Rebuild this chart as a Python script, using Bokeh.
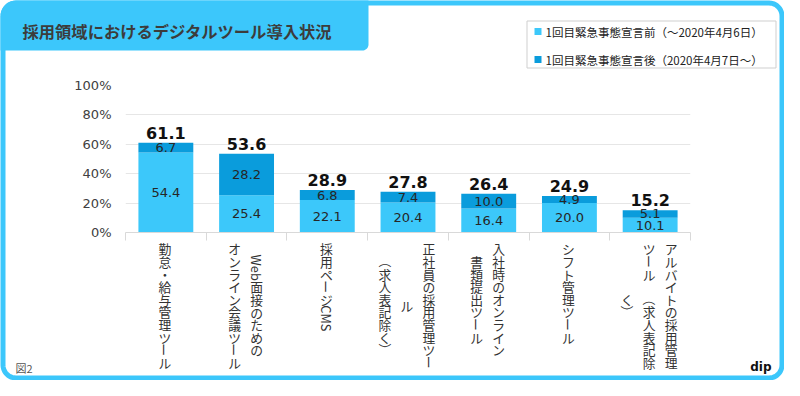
import math
from bokeh.plotting import figure
from bokeh.models import ColumnDataSource, Range1d, FixedTicker, PrintfTickFormatter
from bokeh.core.properties import value
from bokeh.embed import file_html
from bokeh.resources import INLINE

# ---------------- data ----------------
title_text = "採用領域におけるデジタルツール導入状況"
categories = [
    "勤怠・給与管理ツール",
    "Web面接のための\nオンライン会議ツール",
    "採用ページCMS",
    "正社員の採用管理ツー\nル\n（求人表記除く）",
    "入社時のオンライン\n書類提出ツール",
    "シフト管理ツール",
    "アルバイトの採用管理\nツール　（求人表記除\nく）",
]
before = [54.4, 25.4, 22.1, 20.4, 16.4, 20.0, 10.1]
after = [6.7, 28.2, 6.8, 7.4, 10.0, 4.9, 5.1]
totals = [61.1, 53.6, 28.9, 27.8, 26.4, 24.9, 15.2]
series_names = ["1回目緊急事態宣言前（～2020年4月6日）", "1回目緊急事態宣言後（2020年4月7日～）"]
y_ticks = [0, 20, 40, 60, 80, 100]
figure_note = "図2"
brand = "dip"

# ---------------- style ----------------
BLUE = "#3cc7fb"
C_LIGHT = "#3cc8fa"
C_DARK = "#0a9cdc"
JP = "Noto Sans CJK JP"
NUM = "DejaVu Sans"

W, H = 784, 380
# plot frame in canvas pixels: x 125..690, y 85..232
FRAME_L, FRAME_R, FRAME_T, FRAME_B = 125, 690, 85, 232
XS = (FRAME_R - FRAME_L) / 7.0
YS = (FRAME_B - FRAME_T) / 100.0


def dx(px):
    return -0.5 + (px - FRAME_L) / XS


def dy(py):
    return (FRAME_B - py) / YS


p = figure(width=W, height=H, x_range=Range1d(-0.5, 6.5), y_range=Range1d(0, 100),
           output_backend="svg", toolbar_location=None,
           min_border_left=FRAME_L, min_border_right=W - FRAME_R,
           min_border_top=FRAME_T, min_border_bottom=H - FRAME_B)
p.outline_line_color = None
p.background_fill_color = "white"
p.border_fill_color = "white"

# axes
p.yaxis.ticker = FixedTicker(ticks=y_ticks)
p.yaxis.formatter = PrintfTickFormatter(format="%d%%")
p.yaxis.axis_line_color = None
p.yaxis.major_tick_line_color = None
p.yaxis.minor_tick_line_color = None
p.yaxis.major_tick_out = 0
p.yaxis.major_tick_in = 0
p.yaxis.major_label_standoff = 14
p.yaxis.major_label_text_font = NUM
p.yaxis.major_label_text_font_size = "13px"
p.yaxis.major_label_text_color = "#404040"

xt = [i - 0.5 for i in range(len(categories) + 1)]
p.xaxis.ticker = FixedTicker(ticks=xt)
p.xaxis.major_label_overrides = {t: "" for t in xt}
p.xaxis.major_label_text_font_size = "0px"
p.xaxis.axis_line_color = "#d9d9d9"
p.xaxis.major_tick_line_color = "#d9d9d9"
p.xaxis.major_tick_out = 8
p.xaxis.major_tick_in = 0
p.xaxis.minor_tick_line_color = None

p.xgrid.visible = False
p.ygrid.ticker = FixedTicker(ticks=y_ticks)
p.ygrid.grid_line_color = "#e6e6e6"

# bars
xs = list(range(len(categories)))
src = ColumnDataSource(dict(x=xs, before=before, after=after))
rs = p.vbar_stack(["before", "after"], x="x", width=0.68, color=[C_LIGHT, C_DARK],
                  source=src, line_color=None)

# segment labels
seg_src = ColumnDataSource(dict(
    x=xs + xs,
    y=[b / 2 for b in before] + [b + a / 2 for b, a in zip(before, after)],
    t=["%.1f" % v for v in before] + ["%.1f" % v for v in after],
))
p.text(x="x", y="y", text="t", source=seg_src, text_font=value(NUM), text_font_size="13px",
       text_color="#262626", text_align="center", text_baseline="middle")

tot_src = ColumnDataSource(dict(x=xs, y=[t + 10 / YS for t in totals], t=["%.1f" % t for t in totals]))
p.text(x="x", y="y", text="t", source=tot_src, text_font=value(NUM), text_font_size="16px",
       text_font_style="bold", text_color="#111111", text_align="center", text_baseline="alphabetic")

# vertical category labels
LABEL_TOP = 242
PITCH = 12.6
LATIN = 8.6
COL_GAP = 22
COL_SHIFT = -1
ROT = set("ー（）～")


def tokenize(col):
    out, buf = [], ""
    for ch in col:
        if ch.isascii() and ch.isalnum():
            buf += ch
        else:
            if buf:
                out.append(buf)
                buf = ""
            out.append(ch)
    if buf:
        out.append(buf)
    return out


def tok_len(t):
    if t.isascii():
        return len(t) * LATIN
    return PITCH


up = dict(x=[], y=[], t=[])
rot = dict(x=[], y=[], t=[])
for i, label in enumerate(categories):
    cols = label.split("\n")
    n = len(cols)
    toks = [tokenize(c) for c in cols]
    lens = [sum(tok_len(t) for t in ts) for ts in toks]
    maxL = max(lens)
    for k, ts in enumerate(toks):
        off = ((n - 1) / 2 - k) * COL_GAP + COL_SHIFT
        yy = LABEL_TOP + (maxL - lens[k]) / 2
        for t in ts:
            L = tok_len(t)
            cy = yy + L / 2
            yy += L
            if t.strip() == "":
                continue
            target = rot if (t in ROT or t.isascii()) else up
            target["x"].append(i + off / XS)
            target["y"].append(dy(cy))
            target["t"].append(t)

p.text(x="x", y="y", text="t", source=ColumnDataSource(up), text_font=value(JP),
       text_font_size="12.8px", text_color="#333333", text_align="center",
       text_baseline="middle", level="overlay")
p.text(x="x", y="y", text="t", source=ColumnDataSource(rot), text_font=value(JP),
       text_font_size="12.8px", text_color="#333333", text_align="center",
       text_baseline="middle", angle=-math.pi / 2, level="overlay")


# frame decorations (canvas pixels converted through the scales)
def arc(cx, cy, r, a0, a1, n=10):
    pts = []
    for j in range(n + 1):
        a = math.radians(a0 + (a1 - a0) * j / n)
        pts.append((cx + r * math.cos(a), cy + r * math.sin(a)))
    return pts


def rrect(x0, y0, x1, y1, r):
    pts = []
    pts += arc(x0 + r, y0 + r, r, 180, 270)
    pts += arc(x1 - r, y0 + r, r, 270, 360)
    pts += arc(x1 - r, y1 - r, r, 0, 90)
    pts += arc(x0 + r, y1 - r, r, 90, 180)
    pts.append(pts[0])
    return pts


# title tab
R_OUT = 15.5
tab = arc(R_OUT, R_OUT, R_OUT, 180, 270) + [(368, 0), (368, 44)] + \
    arc(362, 44, 6, 0, 90) + [(0, 50)]
p.patch([dx(a) for a, b in tab], [dy(b) for a, b in tab], fill_color=BLUE,
        line_color=None, level="overlay")

border = rrect(2.5, 2.5, W - 2.5, H - 2.5, 13)
p.line([dx(a) for a, b in border], [dy(b) for a, b in border], line_color=BLUE,
       line_width=5, level="overlay")

p.text(x=[dx(22)], y=[dy(30)], text=[title_text], text_font=value(JP), text_font_size="16.3px",
       text_font_style="bold", text_color="#3c3c3c", text_align="left", text_baseline="middle",
       level="overlay")
p.text(x=[dx(15)], y=[dy(367)], text=[figure_note], text_font=value(JP), text_font_size="11px",
       text_color="#555555", text_align="left", text_baseline="middle", level="overlay")
p.text(x=[dx(771)], y=[dy(366)], text=[brand], text_font=value(NUM), text_font_size="12px",
       text_font_style="bold", text_color="#111111", text_align="right", text_baseline="middle",
       level="overlay")

# legend (drawn as overlay glyphs so that it can sit above the plot frame)
LG_L, LG_R, LG_T, LG_B = 526, 776, 20, 68
box = [(LG_L + 0.5, LG_T + 0.5), (LG_R - 0.5, LG_T + 0.5), (LG_R - 0.5, LG_B - 0.5),
       (LG_L + 0.5, LG_B - 0.5), (LG_L + 0.5, LG_T + 0.5)]
p.patch([dx(a) for a, b in box], [dy(b) for a, b in box], fill_color="white",
        line_color="#cfcfcf", line_width=1, level="overlay")
row_y = [31, 59]
SW = 7
p.quad(left=[dx(LG_L + 8)] * 2, right=[dx(LG_L + 8 + SW)] * 2,
       top=[dy(v - SW / 2) for v in row_y], bottom=[dy(v + SW / 2) for v in row_y],
       fill_color=[C_LIGHT, C_DARK], line_color=None, level="overlay")
p.text(x=[dx(LG_L + 19)] * 2, y=[dy(v) for v in row_y], text=series_names,
       text_font=value(JP), text_font_size="11.5px", text_color="#222222",
       text_align="left", text_baseline="middle", level="overlay")

open("out.html", "w").write(file_html(p, INLINE))
